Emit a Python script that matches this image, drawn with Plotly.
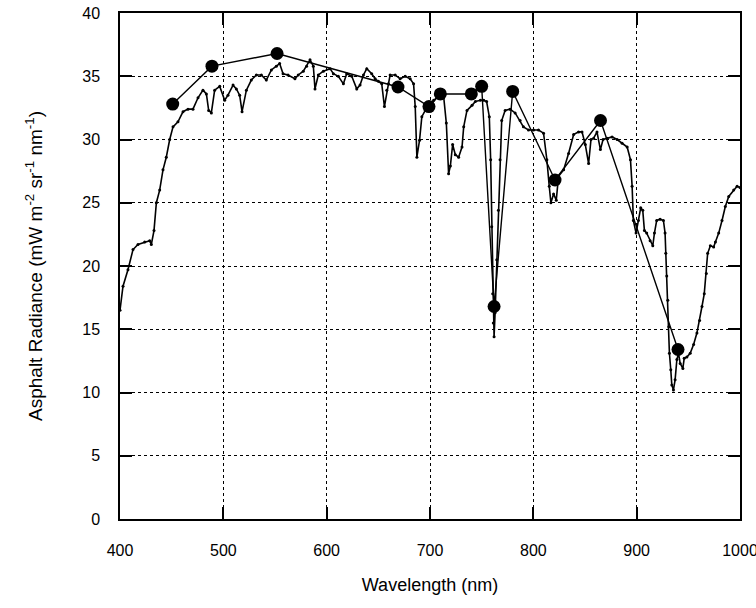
import plotly.graph_objects as go

# Continuous asphalt radiance spectrum
spec_wl = [400, 402.9, 407.7, 412.6, 417.4, 423.9, 428.7, 430.3, 432.9, 435.2, 438.4, 441.6, 444.8, 448.1,
           451.3, 456.1, 461, 465.8, 470.6, 475.5, 480.3, 483.6, 485.8, 488.4, 491.6, 496.5, 501.3, 504.5,
           509.4, 512.6, 515.8, 518.1, 522.3, 527.1, 532, 536.8, 541.6, 546.5, 551.3, 554.5, 557.8, 562.6,
           569.3, 572.5, 577.4, 580.6, 583.9, 587.1, 588.7, 591.9, 596.8, 603.3, 606.5, 611.3, 616.2, 619.4,
           624.3, 629.1, 632.3, 635.6, 638.8, 643.6, 646.9, 650.1, 653.3, 655.9, 658.2, 659.8, 661.4, 666.3,
           671.1, 676, 680.8, 684.1, 685.7, 687.3, 689.9, 692.1, 695.4, 698.6, 703.5, 708.3, 713.2, 715.8,
           718, 719.7, 721.9, 724.5, 727.7, 731, 732.6, 735.8, 740.7, 743.9, 748.8, 752, 754.8, 757.4,
           758.7, 759.7, 760.7, 761.3, 762, 763, 764.6, 766.2, 767.8, 769.4, 772.7, 777.5, 782.4, 787.2,
           790.4, 795.3, 800.2, 805, 809.9, 813.1, 815.4, 817, 819.6, 822.2, 824.4, 829.3, 834.1, 839,
           843.8, 847.1, 850.3, 853.5, 855.8, 858.4, 861.6, 864.9, 867.5, 871.3, 876.2, 881.1, 885.9, 890.8,
           894, 895.6, 896.8, 899.4, 901.7, 903.9, 905.9, 907.5, 909.7, 913, 915.6, 917.2, 919.4, 922.7,
           925.9, 927.5, 928.2, 929.1, 930.1, 931.1, 931.7, 933, 934, 935.6, 937.2, 938.9, 940.5, 942.1,
           944.7, 946, 948.6, 951.8, 955.1, 958.3, 960.9, 963.2, 965.4, 967.4, 968.7, 971.3, 974.5, 976.2,
           979.4, 982.6, 985.8, 989.1, 993.9, 997.2, 1000]
spec_rad = [16.5, 18.4, 19.7, 21.3, 21.7, 21.9, 22.0, 21.7, 22.8, 25.0, 26.0, 27.6, 28.6, 30.0,
            31.0, 31.4, 32.2, 32.4, 32.4, 33.3, 33.9, 33.6, 32.3, 32.1, 33.9, 34.2, 33.1, 33.5,
            34.3, 34.0, 33.5, 32.2, 33.9, 34.7, 35.1, 35.1, 34.7, 35.5, 35.8, 36.0, 35.2, 35.1,
            34.8, 35.1, 35.4, 35.8, 36.3, 35.8, 34.0, 35.1, 35.4, 35.6, 35.2, 35.0, 34.4, 35.2,
            35.0, 34.0, 34.3, 35.1, 35.6, 35.2, 34.8, 34.6, 34.4, 32.6, 33.9, 34.4, 35.1, 35.1,
            34.8, 35.0, 34.8, 34.4, 32.6, 28.6, 29.95, 31.8, 32.3, 32.6, 33.1, 33.5, 33.4, 31.3,
            27.3, 27.9, 29.6, 28.8, 28.6, 29.4, 31.0, 32.3, 32.7, 33.0, 33.1, 33.1, 33.0, 31.8,
            28.4, 23.1, 17.8, 15.5, 14.4, 16.3, 20.5, 24.4, 28.4, 31.5, 32.3, 32.4, 32.1, 31.5,
            31.0, 30.75, 30.75, 30.75, 30.5, 28.4, 26.3, 25.0, 25.7, 25.2, 27.1, 27.6, 28.9, 30.4,
            30.6, 30.6, 29.6, 28.1, 30.0, 30.1, 30.6, 29.2, 30.0, 30.1, 30.2, 30.0, 29.7, 29.4,
            28.4, 26.3, 23.6, 22.6, 23.6, 24.6, 24.4, 22.8, 22.6, 22.0, 21.6, 22.6, 23.6, 23.7,
            23.6, 22.6, 21.0, 19.2, 17.3, 15.2, 13.1, 11.8, 10.6, 10.2, 11.0, 12.6, 13.1, 12.3,
            11.9, 12.7, 12.8, 13.1, 13.8, 14.7, 15.7, 16.8, 17.8, 19.4, 21.0, 21.6, 21.5, 21.9,
            22.6, 23.6, 24.7, 25.5, 26.0, 26.3, 26.2]

# Band-averaged values (large dots)
band_wl = [451, 489, 552, 669, 699, 710, 740, 750, 762, 780, 821, 865, 940]
band_rad = [32.8, 35.8, 36.8, 34.15, 32.6, 33.6, 33.6, 34.2, 16.8, 33.8, 26.8, 31.5, 13.4]

x_ticks = [400, 500, 600, 700, 800, 900, 1000]
y_ticks = [0, 5, 10, 15, 20, 25, 30, 35, 40]

fig = go.Figure()
fig.add_trace(go.Scatter(x=spec_wl, y=spec_rad, mode="lines+markers",
                         line=dict(color="black", width=1.6),
                         marker=dict(color="black", size=3, symbol="circle"),
                         showlegend=False))
fig.add_trace(go.Scatter(x=band_wl, y=band_rad, mode="lines+markers",
                         line=dict(color="black", width=1.4),
                         marker=dict(color="black", size=13, symbol="circle"),
                         showlegend=False))

font_family = "Liberation Sans, Arial, sans-serif"
axis_common = dict(showline=True, linecolor="black", linewidth=1.5, mirror="ticks",
                   ticks="inside", ticklen=12, tickwidth=1.5, tickcolor="black",
                   showgrid=True, gridcolor="black", gridwidth=1, griddash="dot",
                   zeroline=False, automargin=False, ticklabeloverflow="allow",
                   tickfont=dict(family=font_family, size=16, color="black"))

fig.update_xaxes(range=[400, 1000], tickvals=x_ticks, ticktext=[str(v) for v in x_ticks],
                 ticklabelstandoff=16,
                 title=dict(text="Wavelength (nm)", font=dict(family=font_family, size=18, color="black"),
                            standoff=20),
                 **axis_common)
fig.update_yaxes(range=[0, 40], tickvals=y_ticks, ticktext=[str(v) for v in y_ticks],
                 ticklabelstandoff=15,
                 title=dict(text="Asphalt Radiance (mW m<sup>-2</sup> sr<sup>-1</sup> nm<sup>-1</sup>)",
                            font=dict(family=font_family, size=19, color="black"), standoff=35),
                 **axis_common)

fig.update_layout(width=756, height=608, plot_bgcolor="white", paper_bgcolor="white",
                  margin=dict(l=120, r=16, t=13, b=89), showlegend=False)

fig.write_html("out.html", config={"displayModeBar": False},
               post_script="document.body.style.margin='0';document.body.style.padding='0';")
